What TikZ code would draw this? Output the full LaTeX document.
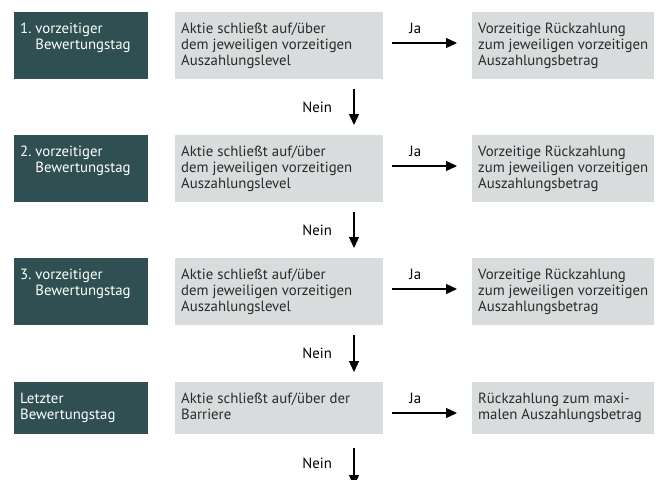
\documentclass[tikz,border=0pt]{standalone}
\usepackage{fontspec}
\setmainfont{PT Sans}
\usetikzlibrary{arrows.meta}
\definecolor{daycol}{HTML}{2F4F52}
\definecolor{condcol}{HTML}{D9DCDD}
\definecolor{inkcol}{HTML}{2A2A2A}
% fixed box: height, width, text (top aligned)
\newcommand{\boxtext}[3]{\parbox[c][#1][t]{#2}{\raggedright\strut #3}}
\tikzset{
  daybox/.style={fill=daycol, text=white, anchor=north west, inner xsep=6pt, inner ysep=10pt},
  condbox/.style={fill=condcol, text=inkcol, anchor=north west, inner xsep=6pt, inner ysep=10pt},
  arr/.style={line width=1.3pt, -{Triangle[length=11pt,width=10pt]}},
  every node/.style={font=\fontsize{14.8pt}{16pt}\selectfont},
}
\begin{document}
\begin{tikzpicture}[x=1pt,y=-1pt]
    \useasboundingbox (0,0) rectangle (660,479);

    \node[daybox] (day1) at (14,12){\boxtext{47pt}{122pt}{1.\ vorzeitiger\\\hphantom{1.\ }Bewertungstag}};
    \node[condbox] (cond1) at (175,12){\boxtext{47pt}{196pt}{Aktie schließt auf/über\\dem jeweiligen vorzeitigen\\Auszahlungslevel}};
    \node[condbox] (pay1) at (472,12){\boxtext{47pt}{170pt}{Vorzeitige Rückzahlung\\zum jeweiligen vorzeitigen\\Auszahlungsbetrag}};

    \node[daybox] (day2) at (14,135){\boxtext{47pt}{122pt}{2.\ vorzeitiger\\\hphantom{2.\ }Bewertungstag}};
    \node[condbox] (cond2) at (175,135){\boxtext{47pt}{196pt}{Aktie schließt auf/über\\dem jeweiligen vorzeitigen\\Auszahlungslevel}};
    \node[condbox] (pay2) at (472,135){\boxtext{47pt}{170pt}{Vorzeitige Rückzahlung\\zum jeweiligen vorzeitigen\\Auszahlungsbetrag}};

    \node[daybox] (day3) at (14,258){\boxtext{47pt}{122pt}{3.\ vorzeitiger\\\hphantom{3.\ }Bewertungstag}};
    \node[condbox] (cond3) at (175,258){\boxtext{47pt}{196pt}{Aktie schließt auf/über\\dem jeweiligen vorzeitigen\\Auszahlungslevel}};
    \node[condbox] (pay3) at (472,258){\boxtext{47pt}{170pt}{Vorzeitige Rückzahlung\\zum jeweiligen vorzeitigen\\Auszahlungsbetrag}};

    \node[daybox] (day4) at (14,382){\boxtext{32pt}{122pt}{Letzter\\Bewertungstag}};
    \node[condbox] (cond4) at (175,382){\boxtext{32pt}{196pt}{Aktie schließt auf/über der\\Barriere}};
    \node[condbox] (pay4) at (472,382){\boxtext{32pt}{170pt}{Rückzahlung zum maxi-\\malen Auszahlungsbetrag}};

    \coordinate (exit) at (354,486);

    % Ja: to the right
    \draw[arr,shorten <=9pt,shorten >=15pt] ([yshift=-31pt]cond1.north east) -- ([yshift=-31pt]pay1.north west) node[pos=0.36,above=5pt]{Ja};
    \draw[arr,shorten <=9pt,shorten >=15pt] ([yshift=-31pt]cond2.north east) -- ([yshift=-31pt]pay2.north west) node[pos=0.36,above=5pt]{Ja};
    \draw[arr,shorten <=9pt,shorten >=15pt] ([yshift=-31pt]cond3.north east) -- ([yshift=-31pt]pay3.north west) node[pos=0.36,above=5pt]{Ja};
    \draw[arr,shorten <=9pt,shorten >=15pt] ([yshift=-31pt]cond4.north east) -- ([yshift=-31pt]pay4.north west) node[pos=0.36,above=5pt]{Ja};

    % Nein: down
    \draw[arr,shorten <=10pt,shorten >=10pt] (cond1.south -| exit) -- (cond2.north -| exit) node[midway,left=18pt]{Nein};
    \draw[arr,shorten <=10pt,shorten >=10pt] (cond2.south -| exit) -- (cond3.north -| exit) node[midway,left=18pt]{Nein};
    \draw[arr,shorten <=10pt,shorten >=10pt] (cond3.south -| exit) -- (cond4.north -| exit) node[midway,left=18pt]{Nein};
    \draw[arr,shorten <=14pt] (cond4.south -| exit) -- (exit) node[pos=0.56,left=18pt]{Nein};
\end{tikzpicture}
\end{document}
